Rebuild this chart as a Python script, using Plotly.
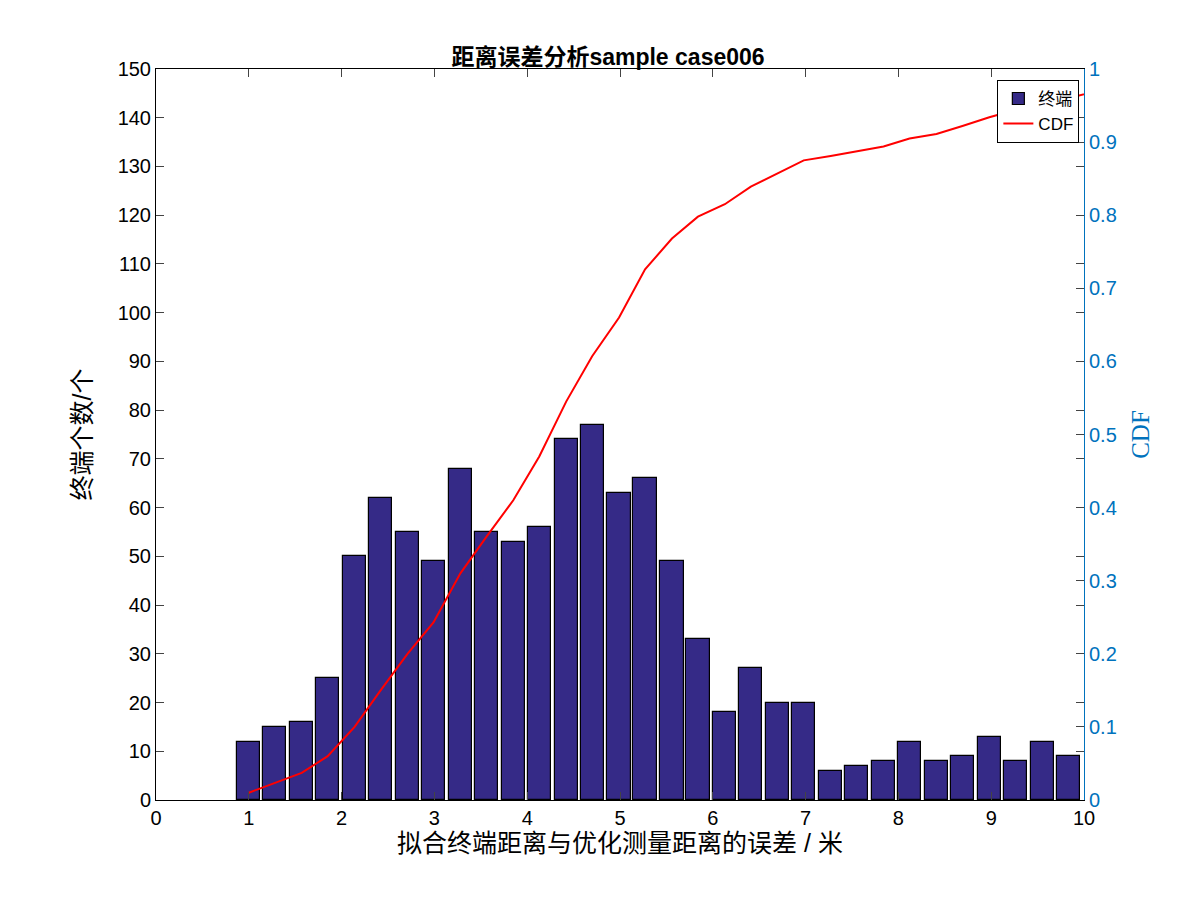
import plotly.graph_objects as go

bin_centers = [1.0, 1.28, 1.57, 1.85, 2.14, 2.42, 2.71, 2.99, 3.28, 3.56, 3.85, 4.13,
               4.42, 4.7, 4.99, 5.27, 5.56, 5.84, 6.13, 6.41, 6.7, 6.98, 7.27, 7.55,
               7.84, 8.12, 8.41, 8.69, 8.98, 9.26, 9.55, 9.83]
counts = [12, 15, 16, 25, 50, 62, 55, 49, 68, 55, 53, 56, 74, 77, 63, 66,
          49, 33, 18, 27, 20, 20, 6, 7, 8, 12, 8, 9, 13, 8, 12, 9]
cdf = [0.01, 0.023, 0.037, 0.06, 0.10, 0.15, 0.20, 0.243, 0.31, 0.36, 0.41, 0.47,
       0.545, 0.607, 0.66, 0.726, 0.768, 0.798, 0.815, 0.839, 0.857, 0.875, 0.881, 0.887,
       0.894, 0.905, 0.911, 0.922, 0.934, 0.944, 0.952, 0.96]
cdf_x = bin_centers + [10.3]
cdf_y = cdf + [0.975]

font = "Liberation Sans, Noto Sans CJK SC, sans-serif"
blue = "#0072BD"

fig = go.Figure()
fig.add_trace(go.Bar(x=bin_centers, y=counts, width=0.25, name="终端",
                     marker=dict(color="#352a87", line=dict(color="black", width=1.2))))
fig.add_trace(go.Scatter(x=cdf_x, y=cdf_y, mode="lines", name="CDF", yaxis="y2",
                         line=dict(color="#ff0000", width=2)))

fig.update_layout(
    width=1200, height=900,
    plot_bgcolor="white", paper_bgcolor="white",
    margin=dict(l=148, r=124, t=61, b=108),
    font=dict(family=font, size=20, color="black"),
    title=dict(text="<b>距离误差分析sample case006</b>", x=0.5, xanchor="center",
               y=0.955, font=dict(size=23)),
    xaxis=dict(range=[0, 10], dtick=1, showgrid=False, ticks="inside", ticklen=8,
               showline=True, linecolor="black", mirror="ticks", zeroline=False,
               title=dict(text="拟合终端距离与优化测量距离的误差 / 米", font=dict(size=25), standoff=2)),
    yaxis=dict(range=[0, 150], dtick=10, showgrid=False, ticks="inside", ticklen=8,
               showline=True, linecolor="black", mirror="ticks", zeroline=False,
               title=dict(text="终端个数/个", font=dict(size=25), standoff=18)),
    yaxis2=dict(range=[0, 1], dtick=0.1, overlaying="y", side="right", showgrid=False,
                ticks="inside", ticklen=8, showline=True, linecolor=blue, zeroline=False,
                tickfont=dict(color=blue), tickformat="~g",
                title=dict(text="CDF", font=dict(family="Liberation Serif, serif", size=25, color=blue))),
    legend=dict(x=0.995, y=0.985, xanchor="right", yanchor="top", bgcolor="white",
                bordercolor="black", borderwidth=1, font=dict(size=17),
                tracegroupgap=0),
    showlegend=True,
    bargap=0,
)

fig.write_html("out.html")
